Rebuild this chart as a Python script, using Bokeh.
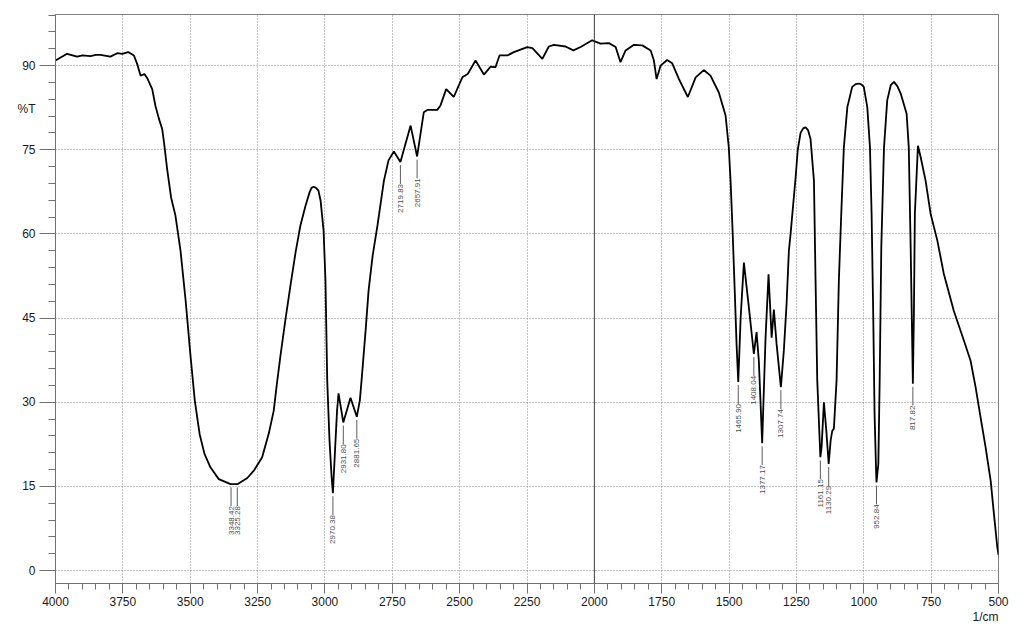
import math
from bokeh.plotting import figure
from bokeh.models import Range1d, FixedTicker, Span, ColumnDataSource, LinearAxis
from bokeh.core.properties import value
from bokeh.embed import file_html
from bokeh.resources import INLINE

# ---- spectrum (wavenumber 1/cm, %T) ----
wavenumber = [
    4000, 3957, 3920, 3900, 3870, 3850, 3833, 3796, 3771, 3752, 3730, 3709, 3697,
    3684, 3670, 3660, 3641, 3629, 3616, 3604, 3598, 3585, 3571, 3555, 3536, 3517,
    3499, 3483, 3465, 3447, 3425, 3394, 3350, 3325, 3288, 3264, 3233, 3208, 3190,
    3179, 3165, 3147, 3128, 3109, 3091, 3072, 3057, 3050, 3042, 3033, 3024, 3016,
    3005, 2998,
    2991.5, 2983, 2975.5, 2970.4, 2962.5, 2955, 2949.5, 2931.8, 2905, 2881.7,
    2870.5, 2864, 2849, 2838, 2823, 2805, 2781, 2764, 2744, 2719.8, 2682, 2657.9,
    2633, 2620, 2583, 2571, 2550, 2522, 2490, 2470, 2441, 2410, 2385, 2367, 2352,
    2323, 2299, 2249, 2230, 2193, 2169, 2150, 2107, 2078, 2051, 2008, 1977, 1946,
    1921, 1903, 1884, 1853, 1822, 1791, 1779, 1769, 1754, 1730, 1711, 1686, 1653,
    1624, 1594, 1569, 1538, 1513, 1501, 1494, 1487, 1479, 1472, 1465.9, 1457,
    1445, 1426.5, 1408, 1398, 1389.5, 1377.2, 1371, 1364.5, 1353.5, 1342, 1333.7,
    1323.7, 1307.7, 1296.7, 1286.6, 1278, 1271.7, 1253, 1245, 1234.6, 1225, 1216,
    1207, 1197.6,
    1185, 1179, 1172.7, 1161.2, 1156.6, 1148, 1139, 1130.3, 1123, 1117, 1111,
    1101, 1092.5, 1083.6, 1074, 1061, 1043, 1030, 1018, 1008, 1000, 987, 977, 971,
    965, 960,
    954, 952.8, 946, 941, 935, 925, 913, 900, 888, 875, 863, 841, 833, 826, 820,
    817.8, 814,
    810.4, 799, 789, 770.6, 752, 727, 703, 666, 628.5, 603.6, 585, 566.5, 548,
    529, 517, 504.5, 500,
]
transmittance = [
    90.9, 92.1, 91.6, 91.8, 91.7, 91.9, 91.9, 91.6, 92.2, 92.1, 92.4, 91.8, 90.3,
    88.2, 88.5, 87.8, 85.8, 82.8, 80.5, 78.7, 76.6, 71.3, 66.5, 63.3, 57.0, 48.1,
    38.3, 30.3, 24.3, 20.8, 18.4, 16.3, 15.4, 15.4, 16.5, 17.8, 20.2, 24.5, 28.5,
    33.0, 38.3, 44.6, 50.8, 56.7, 61.5, 65.0, 67.4, 68.2, 68.4, 68.2, 67.7, 65.9,
    60.6, 51.7,
    33.9, 23.2, 16.9, 13.8, 21.4, 28.5, 31.6, 26.4, 30.8, 27.4,
    30.3, 33.9, 42.8, 49.9, 56.1, 61.5, 69.5, 73.1, 74.7, 72.8, 79.3, 73.8,
    81.7, 82.1, 82.1, 82.9, 85.8, 84.4, 87.9, 88.5, 90.9, 88.4, 89.8, 89.7, 91.8,
    91.8, 92.4, 93.3, 93.1, 91.2, 93.4, 93.7, 93.4, 92.7, 93.3, 94.5, 93.9, 94.0,
    93.3, 90.6, 92.7, 93.7, 93.6, 92.7, 90.9, 87.6, 90.0, 91.0, 90.4, 87.6, 84.4,
    87.9, 89.2, 88.2, 85.2, 81.1, 75.4, 69.0, 60.6, 49.9, 40.1, 33.6, 45.1,
    54.9, 46.9, 38.6, 42.5, 37.4, 22.7, 32.1, 41.6, 52.8, 41.5, 46.5,
    40.4, 32.7, 39.2, 47.5, 57.0, 60.0, 70.1, 75.0, 78.0, 78.8, 79.0,
    78.5, 76.9,
    69.5, 51.7, 33.9, 20.2, 22.0, 30.0, 24.9, 19.0, 23.2, 24.9, 25.3,
    33.9, 51.7, 63.6, 75.4, 82.6, 86.2, 86.7, 86.8, 86.6, 86.2, 82.6, 75.4, 63.6,
    45.8, 27.9,
    17.2, 15.7, 19.0, 33.9, 57.6, 75.4, 83.8, 86.5, 87.1, 86.3, 85.0, 81.4, 75.4,
    57.6, 39.8,
    33.3, 45.8,
    63.6, 75.7, 73.7, 69.5, 63.6, 58.8, 52.9, 46.3, 41.0, 37.4, 32.7, 27.3, 22.0,
    16.0, 10.1, 4.2, 2.8,
]

# ---- labelled peaks ----
peak_labels = ["3348.42", "3325.28", "2970.38", "2931.80", "2881.65", "2719.83",
               "2657.91", "1465.90", "1408.04", "1377.17", "1307.74", "1161.15",
               "1130.29", "952.84", "817.82"]
peak_wn = [3348.42, 3325.28, 2970.38, 2931.80, 2881.65, 2719.83, 2657.91,
           1465.90, 1408.04, 1377.17, 1307.74, 1161.15, 1130.29, 952.84, 817.82]
peak_T = [15.4, 15.4, 13.8, 26.4, 27.4, 72.8, 73.8,
          33.6, 38.6, 22.7, 32.7, 20.2, 19.0, 15.7, 33.3]

# ---- axes ----
x_major = [4000, 3750, 3500, 3250, 3000, 2750, 2500, 2250, 2000, 1750, 1500, 1250, 1000, 750, 500]
x_minor = list(range(500, 4001, 50))
y_major = [0, 15, 30, 45, 60, 75, 90]
y_minor = list(range(0, 100, 3))
y_title, y_title_at = "%T", 82.2
x_title, x_title_at = "1/cm", 548

FONT = "Liberation Sans"
TXT = "#1a1a1a"
AX = "#707070"

p = figure(width=1016, height=626, x_range=Range1d(4000, 500), y_range=Range1d(-2.3, 99.1),
           output_backend="svg", toolbar_location=None,
           min_border_left=55, min_border_right=18, min_border_top=14, min_border_bottom=43)
p.background_fill_color = "white"
p.border_fill_color = "white"
p.outline_line_color = "#808080"
p.outline_line_width = 1

p.xaxis.ticker = FixedTicker(ticks=x_major, minor_ticks=x_minor)
p.yaxis.ticker = FixedTicker(ticks=y_major, minor_ticks=y_minor)
for ax in (p.xaxis, p.yaxis):
    ax.axis_line_color = AX
    ax.major_tick_line_color = AX
    ax.minor_tick_line_color = AX
    ax.major_tick_in = 0
    ax.minor_tick_in = 0
    ax.major_label_text_font = FONT
    ax.major_label_text_font_size = "12px"
    ax.major_label_text_color = TXT
p.xaxis.major_tick_out = 10
p.xaxis.minor_tick_out = 6
p.xaxis.major_label_standoff = 3
p.yaxis.major_tick_out = 16
p.yaxis.minor_tick_out = 7
# y tick labels are drawn by the outer axis (together with the %T title)
p.yaxis.major_label_text_color = None
p.yaxis.major_label_text_alpha = 0
p.yaxis.major_label_standoff = 0

ylab_ticks = y_major + [y_title_at]
ylab = LinearAxis(ticker=FixedTicker(ticks=ylab_ticks, minor_ticks=[]),
                  major_label_overrides={y_title_at: y_title},
                  axis_line_color=None, major_tick_line_color=None, minor_tick_line_color=None,
                  major_tick_out=0, major_tick_in=0, major_label_standoff=4,
                  major_label_text_font=FONT, major_label_text_font_size="12px",
                  major_label_text_color=TXT)
p.add_layout(ylab, "left")

xlab = LinearAxis(ticker=FixedTicker(ticks=[x_title_at], minor_ticks=[]),
                  major_label_overrides={x_title_at: x_title},
                  axis_line_color=None, major_tick_line_color=None, minor_tick_line_color=None,
                  major_tick_out=0, major_tick_in=0, major_label_standoff=1,
                  major_label_text_font=FONT, major_label_text_font_size="12px",
                  major_label_text_color=TXT)
p.add_layout(xlab, "below")

for g in (p.xgrid, p.ygrid):
    g.grid_line_color = "#8a8a8a"
    g.grid_line_dash = "1 2"
    g.grid_line_width = 1
p.xgrid.ticker = FixedTicker(ticks=x_major)
p.ygrid.ticker = FixedTicker(ticks=y_major)

p.add_layout(Span(location=2000, dimension="height", line_color="#404040", line_width=1))

# spectrum
p.line(wavenumber, transmittance, line_color="black", line_width=1.8)

# peak annotations
lead_top = [t - 0.55 for t in peak_T]
lead_bot = [t - 3.9 for t in peak_T]
src = ColumnDataSource(dict(x=peak_wn, y0=lead_top, y1=lead_bot, text=peak_labels))
p.segment(x0="x", y0="y0", x1="x", y1="y1", source=src, line_color="#5a5a5a", line_width=1)
p.text(x="x", y="y1", text="text", source=src, angle=math.pi / 2,
       text_align="right", text_baseline="middle", text_font=value(FONT),
       text_font_size="8px", text_color="#505050")

open("out.html", "w").write(file_html(p, INLINE))
